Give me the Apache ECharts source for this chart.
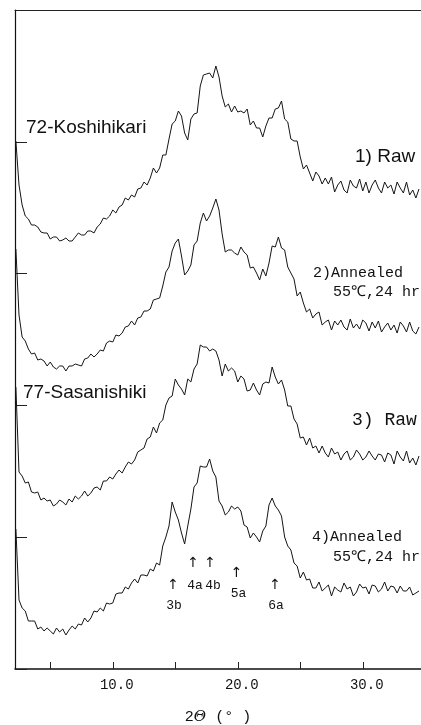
<!DOCTYPE html>
<html>
<head>
<meta charset="utf-8">
<script src="https://cdn.jsdelivr.net/npm/echarts@6/dist/echarts.min.js"></script>
<style>
html,body{margin:0;padding:0;background:#fff;}
#chart{width:421px;height:725px;}
</style>
</head>
<body>
<div id="chart"></div>
<script>
// 2θ (degrees) sampling grid
var twoTheta = [2.25,2.5,2.75,3,3.25,3.5,3.75,4,4.25,4.5,4.75,5,5.25,5.5,5.75,6,6.25,6.5,6.75,7,7.25,7.5,7.75,8,8.25,8.5,8.75,9,9.25,9.5,9.75,10,10.25,10.5,10.75,11,11.25,11.5,11.75,12,12.25,12.5,12.75,13,13.25,13.5,13.75,14,14.25,14.5,14.75,15,15.25,15.5,15.75,16,16.25,16.5,16.75,17,17.25,17.5,17.75,18,18.25,18.5,18.75,19,19.25,19.5,19.75,20,20.25,20.5,20.75,21,21.25,21.5,21.75,22,22.25,22.5,22.75,23,23.25,23.5,23.75,24,24.25,24.5,24.75,25,25.25,25.5,25.75,26,26.25,26.5,26.75,27,27.25,27.5,27.75,28,28.25,28.5,28.75,29,29.25,29.5,29.75,30,30.25,30.5,30.75,31,31.25,31.5,31.75,32,32.25,32.5,32.75,33,33.25,33.5,33.75,34,34.25,34.5];

// 1) 72-Koshihikari, Raw (stacked intensity, arbitrary units)
var koshiRaw = [528,484,464,453,450,444,444,442,437,436,436,430,432,432,428,429,431,428,428,432,436,434,434,438,438,436,442,445,451,450,453,459,456,462,464,471,469,474,472,480,481,487,484,491,501,496,501,514,514,530,545,548,558,553,536,529,550,555,556,583,594,595,596,591,603,592,573,562,565,557,563,557,558,556,560,544,548,541,541,532,543,551,551,560,561,568,550,547,530,528,528,512,500,504,496,488,497,493,485,491,485,492,477,484,488,479,476,489,483,481,490,478,487,476,484,489,481,476,487,481,484,475,487,481,476,487,474,479,471,480];

// 2) 72-Koshihikari, Annealed 55℃, 24 hr
var koshiAnnealed = [420,354,332,328,320,315,316,309,310,308,303,307,302,300,303,303,298,303,303,305,304,303,310,311,315,312,315,319,318,326,328,327,334,333,336,342,343,348,344,351,352,358,358,360,369,370,371,383,397,402,418,426,430,413,394,398,404,424,428,446,456,448,453,461,470,459,435,417,419,419,416,414,422,417,414,401,402,396,389,400,393,406,423,422,432,421,419,402,396,390,373,377,366,357,360,351,355,357,344,347,349,339,348,344,349,342,339,350,341,345,340,349,346,338,347,341,348,337,342,346,339,344,336,347,343,337,347,338,335,342];

// 3) 77-Sasanishiki, Raw
var sasaRaw = [282,197,193,186,187,177,176,177,169,171,168,169,163,165,169,167,164,170,167,173,170,173,178,173,176,181,182,179,188,188,192,190,195,199,196,202,207,205,209,217,219,221,230,232,242,236,246,249,264,271,273,290,284,280,274,290,287,300,305,324,322,322,318,320,318,309,293,305,298,301,298,287,293,290,278,279,286,279,274,285,287,286,302,292,285,289,279,263,263,250,245,231,232,224,231,221,223,216,223,216,212,221,215,217,209,215,218,209,212,219,215,209,212,218,213,209,215,214,207,216,214,205,218,212,208,218,206,211,204,213];

// 4) 77-Sasanishiki, Annealed 55℃, 24 hr
var sasaAnnealed = [140,69,61,58,48,48,48,40,42,38,41,38,35,41,37,40,34,39,43,40,45,44,51,47,51,58,57,61,58,66,65,66,75,76,76,82,80,86,90,86,94,94,93,100,98,106,104,123,132,143,167,157,149,136,125,143,160,182,186,203,202,202,210,198,192,168,163,154,157,163,160,162,158,144,142,131,136,132,127,138,143,164,171,163,159,153,132,123,119,106,103,91,97,89,90,81,81,87,78,81,84,73,82,79,77,86,80,82,73,77,85,81,82,75,84,83,77,80,87,78,83,82,76,83,78,78,82,74,76,78];

// Peak markers
var peakNames = ['3b','4a','4b','5a','6a'];
var peakAngles = [14.82, 16.42, 17.78, 19.9, 22.98];

var xTicks = [5,10,15,20,25,30];
var xTickLabels = [10,20,30];

var chart = echarts.init(document.getElementById('chart'), null, {renderer:'canvas'});

function pairs(arr){ return twoTheta.map(function(x,i){ return [x, arr[i]]; }); }

var lineStyle = {color:'#151515', width:1};
function mk(name, arr){
  return {type:'line', name:name, data:pairs(arr), symbol:'none', lineStyle:lineStyle, silent:true, clip:true, xAxisIndex:0, yAxisIndex:0};
}

var option = {
  animation:false,
  backgroundColor:'#ffffff',
  grid:{left:15, right:0, top:10, bottom:56, containLabel:false, outerBoundsMode:'none'},
  xAxis:[{
    type:'value', min:2.18, max:34.66, position:'bottom',
    axisLine:{show:true, onZero:false, lineStyle:{color:'#111', width:1.5}},
    axisTick:{show:true, inside:true, length:7, customValues:xTicks, lineStyle:{color:'#222', width:1}},
    axisLabel:{show:true, customValues:xTickLabels, margin:9, color:'#111',
      fontFamily:'Liberation Mono', fontSize:14, padding:[0,0,0,8],
      formatter:function(v){ return Number(v).toFixed(1); }},
    splitLine:{show:false},
    name:'{m|2}{g|Θ}{m| (° )}', nameLocation:'middle', nameGap:41,
    nameTextStyle:{color:'#111', rich:{
      m:{fontFamily:'Liberation Mono', fontSize:15, color:'#111'},
      g:{fontFamily:'DejaVu Serif', fontStyle:'italic', fontSize:15, color:'#111'}
    }}
  },{
    type:'value', min:2.18, max:34.66, position:'top',
    axisLine:{show:true, onZero:false, lineStyle:{color:'#222', width:1.2}},
    axisTick:{show:false}, axisLabel:{show:false}, splitLine:{show:false}
  }],
  yAxis:{
    type:'value', min:0, max:659, interval:131.8,
    axisLine:{show:true, onZero:false, lineStyle:{color:'#111', width:1.2}},
    axisTick:{show:true, inside:true, length:12, lineStyle:{color:'#222', width:1}},
    axisLabel:{show:false}, splitLine:{show:false}
  },
  series:[
    mk('72-Koshihikari Raw', koshiRaw),
    mk('72-Koshihikari Annealed', koshiAnnealed),
    mk('77-Sasanishiki Raw', sasaRaw),
    mk('77-Sasanishiki Annealed', sasaAnnealed)
  ]
};
chart.setOption(option);

function txt(text, x, y, font, align){
  return {type:'text', x:x, y:y, silent:true, z:10,
    style:{text:text, font:font, fill:'#111', align:align||'left', verticalAlign:'middle',
      textAlign:align||'left', textVerticalAlign:'middle'}};
}
var sans = '19px "Liberation Sans", Arial, sans-serif';
var mono15 = '15px "Liberation Mono", "DejaVu Sans Mono", monospace';
var mono18 = '18px "Liberation Mono", "DejaVu Sans Mono", monospace';
var mono13 = '13px "Liberation Mono", "DejaVu Sans Mono", monospace';

var els = [
  txt('72-Koshihikari', 26, 128, sans),
  txt('77-Sasanishiki', 23, 393, sans),
  txt('1) Raw', 355, 157, sans),
  txt('2)Annealed', 313, 273, mono15),
  txt('55℃,24 hr', 333, 292, mono15),
  txt('3) Raw', 352, 420, mono18),
  txt('4)Annealed', 312, 537, mono15),
  txt('55℃,24 hr', 333, 557, mono15)
];
var arrowY = [585, 563, 563, 573, 585];
var labelY = [606, 586, 586, 594, 606];
var labelDx = [1, 2, 3, 2, 1];
peakAngles.forEach(function(a, i){
  var px = chart.convertToPixel({xAxisIndex:0}, a);
  els.push(txt('↑', px, arrowY[i], '14px "DejaVu Sans", sans-serif', 'center'));
  els.push(txt(peakNames[i], px + labelDx[i], labelY[i], mono13, 'center'));
});
chart.setOption({graphic:{elements:els}});
</script>
</body>
</html>
